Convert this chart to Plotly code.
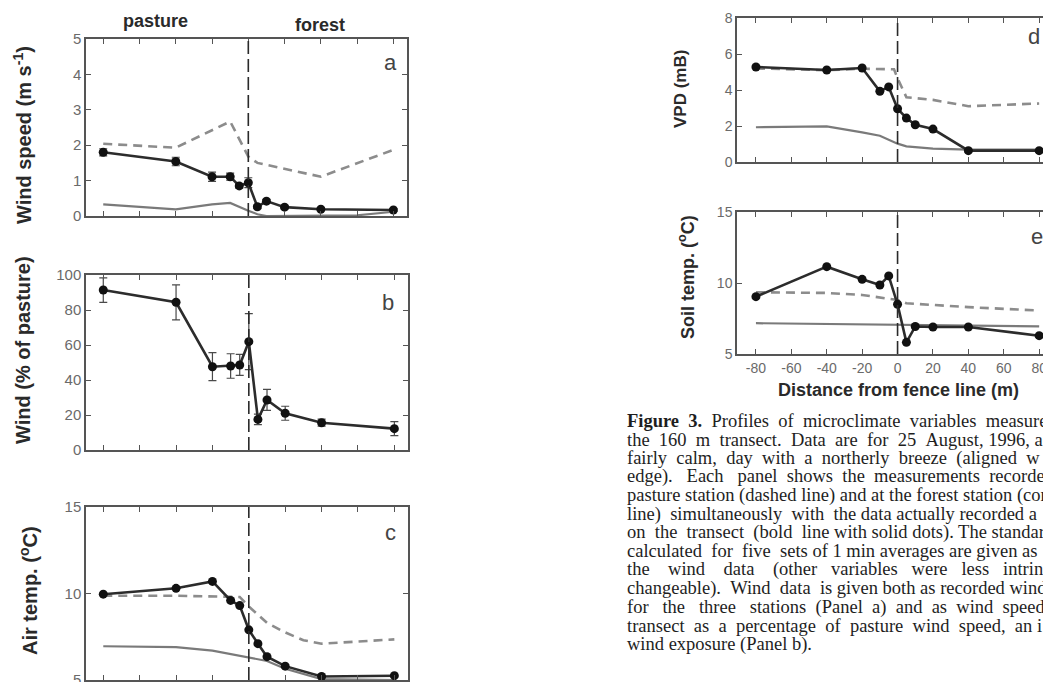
import plotly.graph_objects as go

# ---------------- data ----------------
dist = [-80, -40, -20, -10, -5, 0, 5, 10, 20, 40, 80]
x_ticks = [-80, -60, -40, -20, 0, 20, 40, 60, 80]
x_tick_labels = ["-80", "-60", "-40", "-20", "0", "20", "40", "60", "80"]

# panel a: wind speed (m s-1)
wind_transect = [1.80, 1.54, 1.11, 1.11, 0.85, 0.94, 0.26, 0.42, 0.25, 0.19, 0.17]
wind_err = [0.10, 0.12, 0.13, 0.10, 0.06, 0.14, 0.05, 0.05, 0.05, 0.04, 0.04]
wind_pasture_x = [-80, -40, -10, 0, 5, 40, 80]
wind_pasture = [2.04, 1.93, 2.67, 1.68, 1.50, 1.11, 1.87]
wind_forest_x = [-80, -40, -20, -10, 0, 5, 10, 20, 40, 60, 80]
wind_forest = [0.33, 0.19, 0.33, 0.37, 0.15, 0.05, 0.0, 0.0, 0.0, 0.02, 0.12]

# panel b: wind (% of pasture)
wind_pct = [91.4, 84.4, 47.6, 48.0, 48.6, 61.9, 17.5, 28.6, 21.0, 15.6, 12.2]
wind_pct_err = [7, 10, 8, 7, 6, 16, 3, 6, 4, 2, 4]

# panel c: air temp (C)
air_transect = [9.96, 10.3, 10.7, 9.6, 9.3, 7.9, 7.1, 6.35, 5.8, 5.2, 5.25]
air_pasture_x = [-80, -40, -5, 0, 10, 20, 30, 40, 80]
air_pasture = [9.87, 9.87, 9.80, 9.25, 8.3, 7.75, 7.3, 7.1, 7.35]
air_forest_x = [-80, -40, -20, 0, 10, 20, 40, 80]
air_forest = [6.95, 6.9, 6.7, 6.3, 6.1, 5.65, 5.05, 5.0]

# panel d: VPD (mB)
vpd_transect = [5.28, 5.11, 5.22, 3.93, 4.17, 2.96, 2.44, 2.07, 1.83, 0.63, 0.63]
vpd_pasture_x = [-80, -40, -20, -2, 0, 3, 5, 20, 40, 80]
vpd_pasture = [5.20, 5.10, 5.18, 5.15, 4.65, 4.0, 3.6, 3.45, 3.1, 3.25]
vpd_forest_x = [-80, -40, -20, -10, 0, 5, 20, 40, 80]
vpd_forest = [1.93, 1.98, 1.65, 1.46, 1.02, 0.87, 0.74, 0.69, 0.69]

# panel e: soil temp (C)
soil_transect = [9.04, 11.15, 10.26, 9.86, 10.5, 8.5, 5.82, 6.94, 6.9, 6.9, 6.29]
soil_pasture_x = [-80, -40, -20, -10, 0, 5, 20, 40, 80]
soil_pasture = [9.35, 9.3, 9.16, 9.0, 8.8, 8.57, 8.45, 8.3, 8.06]
soil_forest_x = [-80, 0, 40, 80]
soil_forest = [7.17, 7.05, 6.99, 6.94]

caption_lines = [
    "<b>Figure 3.</b> Profiles of microclimate variables measure",
    "the 160 m transect. Data are for 25 August, 1996, a",
    "fairly calm, day with a northerly breeze (aligned w",
    "edge). Each panel shows the measurements recorded",
    "pasture station (dashed line) and at the forest station (con",
    "line) simultaneously with the data actually recorded a",
    "on the transect (bold line with solid dots). The standard",
    "calculated for five sets of 1 min averages are given as",
    "the wind data (other variables were less intrin",
    "changeable). Wind data is given both as recorded wind",
    "for the three stations (Panel a) and as wind speed",
    "transect as a percentage of pasture wind speed, an i",
    "wind exposure (Panel b).",
]
caption_pad = [6, 8, 8, 8, 0, 3, 4, 3, 17, 3, 12, 8, 0]

# ---------------- layout helpers ----------------
W, H = 1051, 682
OFF = 8  # page body margin
def px_x(p):
    return (p - OFF) / W
def px_y(p):
    return 1 - (p - OFF) / H

SANS = "Liberation Sans, Arial, sans-serif"
SERIF = "Liberation Serif, Times New Roman, serif"
FRAME = "#555555"
TICKC = "#6a6a6a"
DARK = "#2a2a2a"
DASHC = "#8c8c8c"
FORC = "#7a7a7a"

panels = [
    dict(x=(86, 407), y=(39, 216), yr=[0, 5], yt=[0, 1, 2, 3, 4, 5], xr=[-89.5, 87.5], xl=False, fs=15),
    dict(x=(86, 408), y=(275, 450), yr=[0, 100], yt=[0, 20, 40, 60, 80, 100], xr=[-89.5, 87.5], xl=False, fs=15),
    dict(x=(86, 408), y=(507, 680), yr=[5, 15], yt=[5, 10, 15], xr=[-89.5, 87.5], xl=False, fs=15),
    dict(x=(737, None), y=(18, 162), yr=[0, 8], yt=[0, 2, 4, 6, 8], xr=[-90.7, 91.2], xl=False, fs=14),
    dict(x=(737, None), y=(212, 354), yr=[5, 15], yt=[5, 10, 15], xr=[-90.7, 91.2], xl=True, fs=14),
]

fig = go.Figure()
layout = dict(
    width=W, height=H, margin=dict(l=0, r=0, t=0, b=0, autoexpand=False),
    paper_bgcolor="white", plot_bgcolor="white", showlegend=False,
    font=dict(family=SANS, color=TICKC),
)
shapes = []
for i, p in enumerate(panels, start=1):
    sfx = "" if i == 1 else str(i)
    axis_common = dict(
        showline=True, linecolor=FRAME, linewidth=1.5, mirror="ticks",
        ticks="inside", ticklen=5, tickwidth=1.2, tickcolor=FRAME,
        showgrid=False, zeroline=False, fixedrange=True, automargin=False,
        tickfont=dict(family=SANS, size=p["fs"], color=TICKC),
    )
    x1 = 1.0 if p["x"][1] is None else px_x(p["x"][1])
    layout["xaxis" + sfx] = dict(
        axis_common, domain=[px_x(p["x"][0]), x1],
        range=p["xr"], tickvals=x_ticks, ticktext=x_tick_labels,
        showticklabels=p["xl"], anchor="y" + sfx,
    )
    layout["yaxis" + sfx] = dict(
        axis_common, domain=[max(0.0, px_y(p["y"][1])), px_y(p["y"][0])],
        range=p["yr"], tickvals=p["yt"], anchor="x" + sfx,
    )
    shapes.append(dict(
        type="line", xref="x" + sfx, yref="y" + sfx + " domain",
        x0=0, x1=0, y0=0, y1=1,
        line=dict(color=DARK, width=1.6, dash="13px,5px"),
    ))
layout["shapes"] = shapes

def add_line(xs, ys, n, kind):
    sfx = "" if n == 1 else str(n)
    if kind == "pasture":
        line = dict(color=DASHC, width=2.6, dash="9px,6px")
    else:
        line = dict(color=FORC, width=2.2)
    fig.add_trace(go.Scatter(x=xs, y=ys, mode="lines", line=line,
                             xaxis="x" + sfx, yaxis="y" + sfx, hoverinfo="skip"))

def add_transect(ys, n, err=None):
    sfx = "" if n == 1 else str(n)
    kw = {}
    if err is not None:
        kw["error_y"] = dict(type="data", array=err, visible=True,
                             color="#4a4a4a", thickness=1.2, width=4)
    fig.add_trace(go.Scatter(x=dist, y=ys, mode="lines+markers",
                             line=dict(color="#2c2c2c", width=2.6),
                             marker=dict(color="#111111", size=9),
                             xaxis="x" + sfx, yaxis="y" + sfx, **kw))

add_line(wind_pasture_x, wind_pasture, 1, "pasture")
add_line(wind_forest_x, wind_forest, 1, "forest")
add_transect(wind_transect, 1, wind_err)
add_transect(wind_pct, 2, wind_pct_err)
add_line(air_pasture_x, air_pasture, 3, "pasture")
add_line(air_forest_x, air_forest, 3, "forest")
add_transect(air_transect, 3)
add_line(vpd_pasture_x, vpd_pasture, 4, "pasture")
add_line(vpd_forest_x, vpd_forest, 4, "forest")
add_transect(vpd_transect, 4)
add_line(soil_pasture_x, soil_pasture, 5, "pasture")
add_line(soil_forest_x, soil_forest, 5, "forest")
add_transect(soil_transect, 5)

ann = []
def text(x, y, s, size=16, color=DARK, angle=0, family=SANS, xanchor="center"):
    ann.append(dict(x=px_x(x), y=px_y(y), xref="paper", yref="paper", text=s,
                    showarrow=False, textangle=angle, xanchor=xanchor, yanchor="middle",
                    borderpad=0,
                    font=dict(family=family, size=size, color=color)))

text(155, 21, "<b>pasture</b>", 18)
text(320, 25, "<b>forest</b>", 18)
text(22, 135, "<b>Wind speed (m s<sup>-1</sup>)</b>", 20, angle=-90)
text(23, 350, "<b>Wind (% of pasture)</b>", 20, angle=-90)
text(28, 591, "<b>Air temp. (<sup>o</sup>C)</b>", 20, angle=-90)
text(680, 89, "<b>VPD (mB)</b>", 17, angle=-90)
text(686, 277, "<b>Soil temp. (<sup>o</sup>C)</b>", 18, angle=-90)
text(898, 390, "<b>Distance from fence line (m)</b>", 18)
text(390, 62, "a", 22, color="#444")
text(388, 302, "b", 22, color="#444")
text(390, 532, "c", 22, color="#444")
text(1034, 37, "d", 22, color="#444")
text(1037, 237, "e", 22, color="#444")

def justify(line, n):
    # widen the word gaps with n extra no-break spaces, spread evenly
    parts = line.split(" ")
    gaps = len(parts) - 1
    if n == 0 or gaps == 0:
        return line
    out = parts[0]
    for g in range(gaps):
        k = n // gaps + (1 if g < n % gaps else 0)
        out += " " + "\u00a0" * k + parts[g + 1]
    return out

for k, line in enumerate(caption_lines):
    text(626, 421 + k * 18.6, justify(line, caption_pad[k]), 18.5, color="#1e1e1e",
         family=SERIF, xanchor="left")

layout["annotations"] = ann
fig.update_layout(**layout)
fig.write_html("out.html")
